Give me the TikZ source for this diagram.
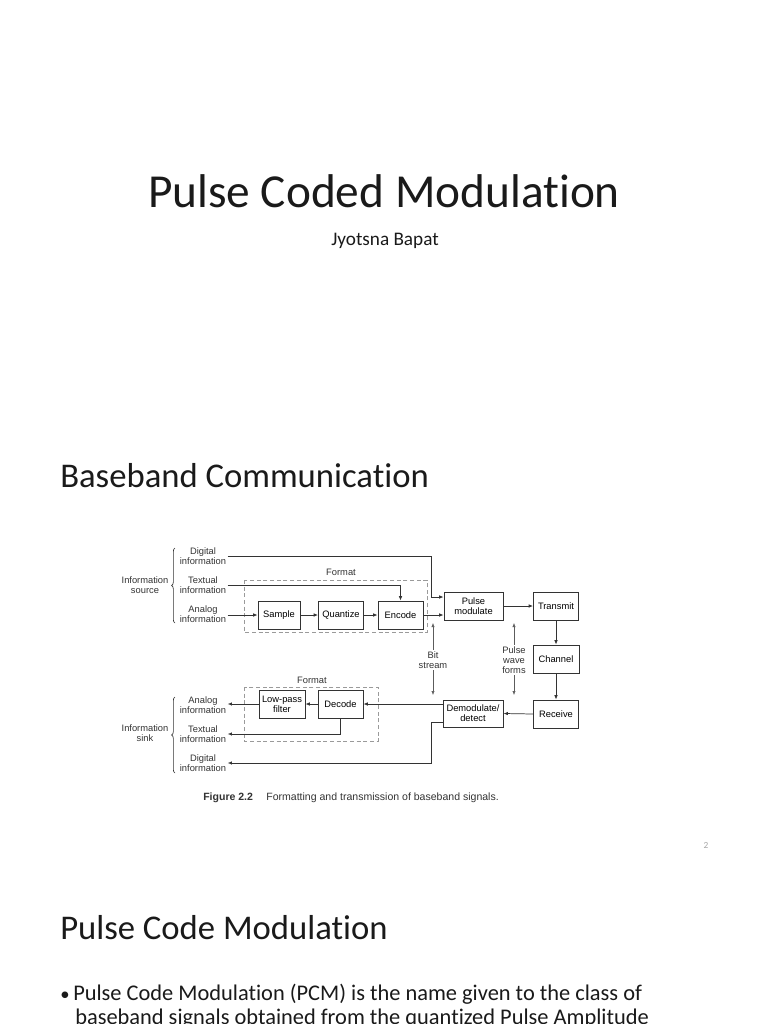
\documentclass[tikz,border=0pt]{standalone}
\usepackage{fontspec}
\setmainfont{Carlito}[Ligatures=NoCommon]
\newfontfamily\figfont{Liberation Sans}
\usetikzlibrary{arrows.meta,decorations.pathreplacing}
\definecolor{figink}{HTML}{333333}
\definecolor{fmtgray}{HTML}{9A9A9A}
\definecolor{slideink}{HTML}{1A1A1A}
\tikzset{
  blk/.style={draw=figink,line width=0.75pt,inner sep=0pt,align=center,minimum height=21pt},
  lbl/.style={align=center,inner sep=1pt,text=figink},
  arr/.style={draw=figink,line width=0.55pt,-{Latex[length=3.2pt,width=2.6pt]}},
  thinarr/.style={draw=figink!80,line width=0.4pt,-{Latex[length=3pt,width=2.4pt]}},
  fmtbox/.style={draw=fmtgray,densely dashed,line width=0.5pt},
  brc/.style={draw=figink,line width=0.5pt,decorate,decoration={brace,amplitude=2.5pt}},
  slidetxt/.style={inner sep=0pt,text=slideink},
}
\begin{document}
\begin{tikzpicture}[x=0.75pt,y=-0.75pt]
\useasboundingbox[fill=white] (0,0) rectangle (768,1024);
% slide text
\node[slidetxt,anchor=base,font=\fontsize{35.5}{42}\selectfont] (title) at (384,207) {Pulse Coded Modulation};
\node[slidetxt,anchor=base,font=\fontsize{14.4}{17}\selectfont] (author) at (385,245) {Jyotsna Bapat};
\node[slidetxt,anchor=base west,font=\fontsize{26}{31}\selectfont] (headA) at (60,487) {Baseband Communication};
\node[slidetxt,anchor=base west,font=\fontsize{26}{31}\selectfont] (headB) at (60,939) {Pulse Code Modulation};
\node[slidetxt,anchor=base west,font=\fontsize{14}{18}\selectfont] (bul) at (60,1000) {\textbullet};
\node[slidetxt,anchor=base west,font=\fontsize{16.8}{20}\selectfont] (lineA) at (73,1000) {Pulse Code Modulation (PCM) is the name given to the class of};
\node[slidetxt,anchor=base west,font=\fontsize{16.8}{20}\selectfont] (lineB) at (75,1024) {baseband signals obtained from the quantized Pulse Amplitude};
\node[anchor=base,inner sep=0pt,text=gray!70,font=\fontsize{7}{8}\selectfont] (pgnum) at (706,848) {2};
% figure
\begin{scope}[font=\figfont\fontsize{7}{7.5}\selectfont]
\draw[fmtbox] (244,580) rectangle (427,632);
\draw[fmtbox] (244,687) rectangle (378,741);
\node[lbl] (fmtT) at (341,572) {Format};
\node[lbl] (fmtB) at (312,680) {Format};
\node[blk,minimum width=31.5pt] (sample) at (279,615) {Sample};
\node[blk,minimum width=33.75pt] (quant) at (341,615) {Quantize};
\node[blk,minimum width=33.75pt] (encode) at (400.5,615) {Encode};
\node[blk,minimum width=44.25pt] (pulse) at (473.5,606) {Pulse\\modulate};
\node[blk,minimum width=33.75pt] (transmit) at (556,606) {Transmit};
\node[blk,minimum width=34.5pt] (channel) at (556,659) {Channel};
\node[blk,minimum width=33.75pt] (receive) at (556,714) {Receive};
\node[blk,minimum width=45pt,minimum height=20.25pt] (demod) at (473,713.5) {Demodulate/\\detect};
\node[blk,minimum width=34.5pt] (lpf) at (282,704) {Low-pass\\filter};
\node[blk,minimum width=33.75pt] (decode) at (340.5,704) {Decode};
\node[lbl] (src) at (145,585) {Information\\source};
\node[lbl] (srcD) at (203,556) {Digital\\information};
\node[lbl] (srcT) at (203,585) {Textual\\information};
\node[lbl] (srcA) at (203,614) {Analog\\information};
\node[lbl] (snk) at (145,733) {Information\\sink};
\node[lbl] (snkA) at (203,705) {Analog\\information};
\node[lbl] (snkT) at (203,734) {Textual\\information};
\node[lbl] (snkD) at (203,763) {Digital\\information};
\node[lbl] (bits) at (433,660) {Bit\\stream};
\node[lbl] (pwf) at (514,660) {Pulse\\wave\\forms};
\coordinate (bsup) at (433,623);
\coordinate (bsdn) at (433,695);
\coordinate (pwup) at (514,623);
\coordinate (pwdn) at (514,695);
\draw[brc] (175,623) -- (175,548);
\draw[brc] (175,773) -- (175,697);
% transmit side
\draw[arr] (srcD.east) -| ([xshift=-9pt,yshift=6.75pt]pulse.west) -- ([yshift=6.75pt]pulse.west);
\draw[arr] (srcT.east) -| (encode.north);
\draw[arr] (srcA.east |- sample.west) -- (sample.west);
\draw[arr] (sample.east) -- (quant.west);
\draw[arr] (quant.east) -- (encode.west);
\draw[arr] (encode.east) -- ([yshift=-6.75pt]pulse.west);
\draw[arr] (pulse.east) -- (transmit.west);
\draw[arr] (transmit.south) -- (channel.north);
\draw[arr] (channel.south) -- (receive.north);
% receive side
\draw[arr] (receive.west) -- (demod.east);
\draw[arr] (demod.west |- decode.east) -- (decode.east);
\draw[arr] (decode.west) -- (lpf.east);
\draw[arr] (lpf.west) -- (snkA.east |- lpf.west);
\draw[arr] (decode.south) |- (snkT.east);
\draw[arr] ([yshift=-7pt]demod.west) -- ++(-8.25pt,0) |- (snkD.east);
\draw[thinarr] (bits.north) -- (bsup);
\draw[thinarr] (bits.south) -- (bsdn);
\draw[thinarr] (pwf.north) -- (pwup);
\draw[thinarr] (pwf.south) -- (pwdn);
\end{scope}
\node[anchor=base west,inner sep=0pt,text=figink,font=\figfont\fontsize{7.9}{9}\selectfont] (caption) at (203,800) {\textbf{Figure 2.2}\hspace{10pt}Formatting and transmission of baseband signals.};
\end{tikzpicture}
\end{document}
